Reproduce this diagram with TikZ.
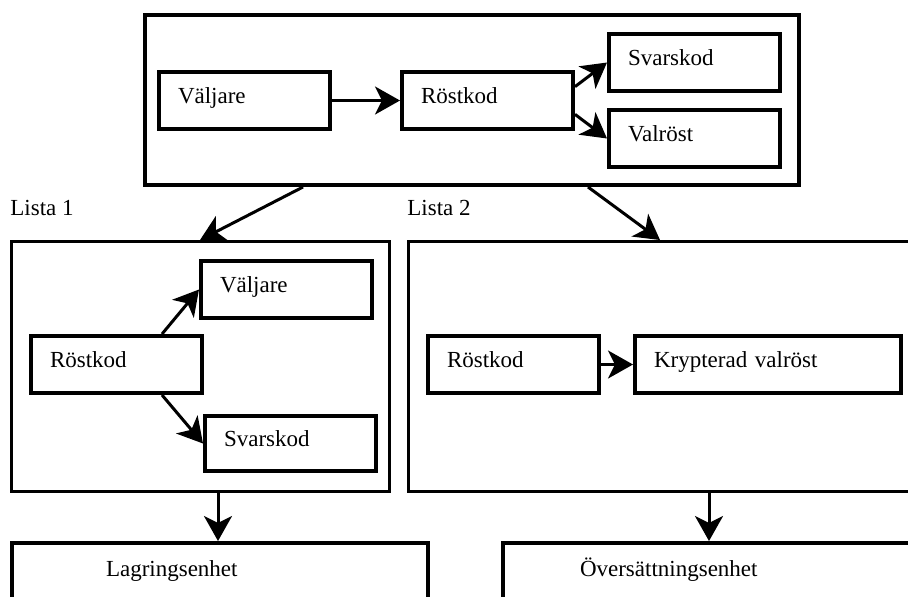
\documentclass[tikz,border=0pt]{standalone}
\usepackage{fontspec}
\setmainfont{Liberation Serif}
\usetikzlibrary{arrows.meta}
\tikzstyle{ram}=[draw, rectangle, line width=1.5pt, anchor=north west, inner sep=0pt]
\tikzstyle{ruta}=[draw, rectangle, line width=2pt, anchor=north west, align=left,
inner xsep=9.5pt, text width=66.5pt, text height=9pt, text depth=6pt, minimum height=28.5pt]
\tikzstyle{enhet}=[ruta, minimum height=30pt]
\tikzstyle{rubrik}=[anchor=base west, inner sep=0pt]
\tikzstyle{pil}=[line width=1.5pt, -{Stealth[length=12.5pt, width=14pt, inset=3.5pt]}]

\begin{document}
\begin{tikzpicture}[x=0.5pt, y=-0.5pt, every node/.style={font=\fontsize{11.5}{14}\selectfont}]
		\clip (0,0) rectangle (908,596);
		% valsedel
		\node[ram, line width=2pt, minimum width=327pt, minimum height=85pt] (topp) at (143,13) {};
		\node[ruta] (valjare) at (157,70) {Väljare};
		\node[ruta] (rostkod) at (400,70) {Röstkod};
		\node[ruta] (svarskod) at (607,32) {Svarskod};
		\node[ruta] (valrost) at (607,108) {Valröst};
		\draw[pil] (valjare) -- (rostkod);
		\draw[pil] (rostkod.9) -- (svarskod.west);
		\draw[pil] (rostkod.-9) -- (valrost.west);
		% listorna
		\node[rubrik] (txt1) at (10,215) {Lista 1};
		\node[rubrik] (txt2) at (407,215) {Lista 2};
		\node[ram, minimum width=189pt, minimum height=125pt] (lista1) at (10,240) {};
		\node[ram, minimum width=261.5pt, minimum height=125pt] (lista2) at (407,240) {};
		\draw[pil] ([xshift=80pt]topp.south west) -- ([xshift=95pt]lista1.north west);
		\draw[pil] ([xshift=222.5pt]topp.south west) -- ([xshift=126.5pt]lista2.north west);
		\node[ruta] (valjare1) at (199,259) {Väljare};
		\node[ruta] (rostkod1) at (29,334) {Röstkod};
		\node[ruta, minimum height=27.5pt] (svarskod1) at (203,414) {Svarskod};
		\draw[pil] ([xshift=66.5pt]rostkod1.north west) -- (valjare1.west);
		\draw[pil] ([xshift=66.5pt]rostkod1.south west) -- (svarskod1.west);
		\node[ruta] (rostkod2) at (426,334) {Röstkod};
		\node[ruta, text width=114pt] (krypt) at (633,334) {Krypterad valröst};
		\draw[pil] (rostkod2) -- (krypt);
		% enheter
		\node[enhet, inner xsep=47pt, text width=114pt] (lagring) at (10,541) {Lagringsenhet};
		\node[enhet, inner xsep=38.5pt, text width=133pt] (oversatt) at (501,541) {Översättningsenhet};
		\draw[pil] ([xshift=104pt]lista1.south west) -- ([xshift=104pt]lagring.north west);
		\draw[pil] ([xshift=151pt]lista2.south west) -- ([xshift=104pt]oversatt.north west);
	\end{tikzpicture}
\end{document}
